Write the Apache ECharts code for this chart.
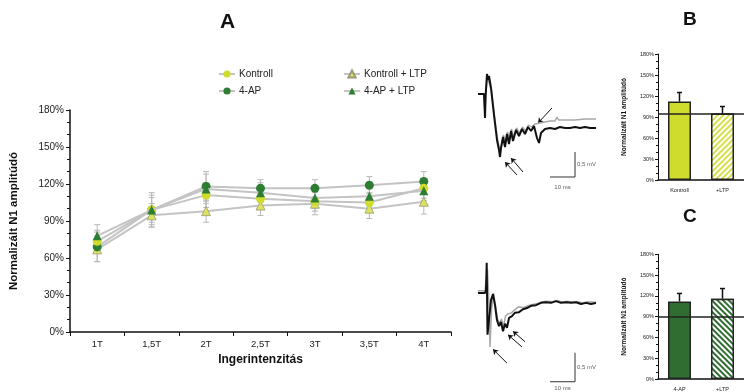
<!DOCTYPE html>
<html><head><meta charset="utf-8">
<script src="https://cdn.jsdelivr.net/npm/echarts@6/dist/echarts.min.js"></script>
<style>html,body{margin:0;padding:0;background:#fff}#c{width:744px;height:392px}</style>
</head><body><div id="c"></div>
<script>
// ---- Panel A data ----
const categories = ['1T','1,5T','2T','2,5T','3T','3,5T','4T'];
const kontroll    = [73.5, 99, 111, 108, 106, 105, 116.5];
const kontrollErr = [9, 10, 10, 8, 8, 8, 8];
const ap4         = [69, 99, 118, 116.5, 116.5, 119, 122];
const ap4Err      = [12, 12, 12, 7, 7, 7, 8];
const kontrollLtp = [67, 94.6, 98, 102.5, 104, 100, 105.6];
const kontrollLtpErr = [10, 9.5, 9, 8, 9, 8, 10];
const ap4Ltp      = [78, 99, 116, 113, 108.6, 110, 114.5];
const ap4LtpErr   = [9, 14, 12, 8, 8, 8, 8];
const yTicksA = [0, 30, 60, 90, 120, 150, 180];

// ---- Traces (ms, mV) ----
const trace1Black = [[3.2,0],[5.6,0],[6.0,-0.48],[6.24,-0.04],[6.8,0.40],[7.2,0.28],[7.6,0.36],[8.4,0.12],[9.6,-0.42],[10.8,-0.92],[11.6,-1.12],[12.0,-1.26],[12.4,-1.08],[13.2,-0.86],[14.0,-1.06],[14.8,-0.80],[15.6,-1.00],[16.4,-0.74],[17.2,-0.94],[18.4,-0.72],[19.6,-0.84],[20.8,-0.70],[22.0,-0.80],[23.2,-0.66],[24.4,-0.74],[25.6,-0.64],[26.8,-0.88],[27.6,-0.98],[28.4,-0.78],[30.0,-0.70],[32.0,-0.68],[34.0,-0.70],[36.0,-0.66],[38.0,-0.68],[40.0,-0.68],[42.0,-0.66],[44.0,-0.68],[46.0,-0.66],[48.0,-0.68],[50.4,-0.68]];
const trace1Gray = [[3.2,0],[5.6,0],[6.0,-0.44],[6.3,-0.02],[6.9,0.36],[7.4,0.26],[7.8,0.30],[8.6,0.08],[9.8,-0.44],[11.0,-0.90],[12.0,-1.16],[12.6,-1.02],[13.4,-0.82],[14.2,-0.98],[15.0,-0.76],[15.8,-0.92],[16.6,-0.70],[17.4,-0.86],[18.6,-0.68],[19.8,-0.78],[21.0,-0.66],[22.2,-0.74],[23.4,-0.62],[24.6,-0.66],[26.0,-0.60],[28.0,-0.58],[30.0,-0.56],[32.0,-0.54],[34.0,-0.54],[34.8,-0.46],[35.4,-0.52],[38.0,-0.52],[42.0,-0.52],[46.0,-0.50],[50.4,-0.50]];
const trace1Arrows = [[[32.8,-0.28],[27.2,-0.58]],[[18.8,-1.62],[14.0,-1.36]],[[21.2,-1.56],[16.4,-1.28]]];
const trace2Black = [[3.2,0],[6.0,0],[6.4,0.05],[6.68,0.52],[7.0,-0.72],[7.6,-0.47],[8.4,-0.12],[9.2,-0.02],[10.0,-0.21],[10.8,-0.47],[11.6,-0.57],[12.4,-0.50],[13.2,-0.66],[14.0,-0.53],[14.8,-0.60],[15.6,-0.43],[16.8,-0.40],[18.0,-0.34],[19.6,-0.33],[21.2,-0.28],[22.8,-0.26],[24.4,-0.22],[26.4,-0.21],[28.4,-0.17],[30.4,-0.16],[32.4,-0.17],[34.4,-0.14],[36.4,-0.17],[38.4,-0.16],[40.4,-0.17],[42.4,-0.16],[44.4,-0.19],[46.4,-0.17],[48.4,-0.19],[50.4,-0.17]];
const trace2Gray = [[3.2,0.04],[6.0,0.04],[6.5,0.03],[7.0,0.40],[7.6,-0.20],[8.0,-0.93],[8.6,-0.30],[9.4,0.0],[10.2,-0.22],[11.0,-0.45],[11.8,-0.52],[12.6,-0.45],[13.4,-0.58],[14.2,-0.40],[15.2,-0.36],[15.6,-0.34],[16.4,-0.35],[17.6,-0.30],[18.4,-0.30],[19.4,-0.24],[20.0,-0.26],[21.6,-0.25],[23.2,-0.22],[25.0,-0.20],[27.0,-0.18],[29.0,-0.15],[31.0,-0.14],[33.0,-0.15],[35.0,-0.13],[37.0,-0.16],[39.0,-0.14],[41.0,-0.16],[43.0,-0.15],[45.0,-0.17],[47.0,-0.15],[50.4,-0.16]];
const trace2Arrows = [[[14.8,-1.21],[9.2,-0.97]],[[20.8,-0.93],[15.2,-0.72]],[[22.0,-0.84],[17.2,-0.66]]];
const scaleMs = 10, scaleMv = 0.5;
const scale1Corner = [42, -1.66];
const scale2Corner = [42, -1.53];

// ---- Panels B and C ----
const barBCats = ['Kontroll', '+LTP'];
const barBVals = [112, 95];
const barBErr  = [13, 10];
const barBRef  = 95;
const barCCats = ['4-AP', '+LTP'];
const barCVals = [112, 116];
const barCErr  = [11.5, 14.6];
const barCRef  = 90;

const FONT = 'Liberation Sans, Arial, sans-serif';
const C_YEL = '#cfdc2e', C_GRN = '#2d7d32', C_YTRI = '#dbe35c', C_DGRN = '#2f6e30';

function errData(vals, errs){ return vals.map((v,i)=>[i, v-errs[i], v+errs[i]]); }
function errRender(color, cap, width){
  return function(params, api){
    const lo = api.coord([api.value(0), api.value(1)]);
    const hi = api.coord([api.value(0), api.value(2)]);
    const st = {stroke: color, lineWidth: width};
    return {type:'group', children:[
      {type:'line', shape:{x1:lo[0],y1:lo[1],x2:hi[0],y2:hi[1]}, style:st},
      {type:'line', shape:{x1:hi[0]-cap,y1:hi[1],x2:hi[0]+cap,y2:hi[1]}, style:st},
      {type:'line', shape:{x1:lo[0]-cap,y1:lo[1],x2:lo[0]+cap,y2:lo[1]}, style:st}
    ]};
  };
}
function barErrRender(params, api){
  const lo = api.coord([api.value(0), api.value(1)]);
  const hi = api.coord([api.value(0), api.value(2)]);
  const st = {stroke:'#111', lineWidth:1.5};
  return {type:'group', children:[
    {type:'line', shape:{x1:lo[0],y1:lo[1],x2:hi[0],y2:hi[1]}, style:st},
    {type:'line', shape:{x1:hi[0]-2.5,y1:hi[1],x2:hi[0]+2.5,y2:hi[1]}, style:st}
  ]};
}

const smallAxisY = (gi, name) => ({
  gridIndex: gi, type:'value', min:0, max:180, interval:30,
  name: name, nameLocation:'middle', nameGap:30,
  nameTextStyle:{fontSize:6.5, fontWeight:'bold', color:'#111', fontFamily:FONT},
  axisLine:{show:true, lineStyle:{color:'#111', width:1}},
  axisTick:{show:true, length:3, lineStyle:{color:'#111'}},
  minorTick:{show:true, splitNumber:3, length:2, lineStyle:{color:'#111'}},
  splitLine:{show:false},
  axisLabel:{fontSize:5.5, color:'#222', margin:4, formatter:'{value}%', fontFamily:FONT}
});
const smallAxisX = (gi, cats) => ({
  gridIndex: gi, type:'category', data: cats,
  axisLine:{show:true, lineStyle:{color:'#111', width:1.5}},
  axisTick:{show:false},
  axisLabel:{fontSize:5.5, color:'#222', margin:7, fontFamily:FONT}
});
const hiddenAxis = (gi, min, max) => ({gridIndex:gi, type:'value', min:min, max:max, show:false, splitLine:{show:false}});

const chart = echarts.init(document.getElementById('c'), null, {renderer:'canvas'});
const option = {
  animation:false,
  backgroundColor:'#fff',
  textStyle:{fontFamily:FONT},
  title:[
    {text:'A', left:215, top:7, textStyle:{fontSize:21, fontWeight:'bold', color:'#111', fontFamily:FONT}},
    {text:'B', left:678, top:5, textStyle:{fontSize:19, fontWeight:'bold', color:'#111', fontFamily:FONT}},
    {text:'C', left:678, top:202, textStyle:{fontSize:19, fontWeight:'bold', color:'#111', fontFamily:FONT}}
  ],
  legend:[
    {data:['Kontroll','4-AP'], orient:'vertical', left:213, top:64, itemWidth:16, itemHeight:9, itemGap:7,
     itemStyle:{}, textStyle:{fontSize:10, color:'#222', fontFamily:FONT, padding:[0,0,0,-1]}},
    {data:['Kontroll + LTP','4-AP + LTP'], orient:'vertical', left:338, top:64, itemWidth:16, itemHeight:9, itemGap:7,
     textStyle:{fontSize:10, color:'#222', fontFamily:FONT, padding:[0,0,0,-1]}}
  ],
  grid:[
    {left:69, top:110, width:382, height:222},
    {left:470, top:69, width:125, height:125},
    {left:470, top:258.2, width:125, height:133.4},
    {left:658, top:54, width:94, height:126},
    {left:658, top:254.3, width:94, height:126.4}
  ],
  xAxis:[
    {gridIndex:0, type:'category', data:categories, boundaryGap:true,
     name:'Ingerintenzitás', nameLocation:'middle', nameGap:20,
     nameTextStyle:{fontSize:12, fontWeight:'bold', color:'#111', fontFamily:FONT},
     axisLine:{lineStyle:{color:'#111', width:1.5}},
     axisTick:{show:true, alignWithLabel:false, interval:0, length:4, lineStyle:{color:'#111'}},
     axisLabel:{fontSize:9.5, color:'#222', margin:7, interval:0, fontFamily:FONT}},
    hiddenAxis(1, 0, 50),
    hiddenAxis(2, 0, 50),
    smallAxisX(3, barBCats),
    smallAxisX(4, barCCats)
  ],
  yAxis:[
    {gridIndex:0, type:'value', min:yTicksA[0], max:yTicksA[yTicksA.length-1], interval:30,
     name:'Normalizált N1 amplitúdó', nameLocation:'middle', nameGap:50,
     nameTextStyle:{fontSize:11.5, fontWeight:'bold', color:'#111', fontFamily:FONT},
     axisLine:{show:true, lineStyle:{color:'#111', width:1.5}},
     axisTick:{show:true, length:4, lineStyle:{color:'#111'}},
     minorTick:{show:true, splitNumber:3, length:3, lineStyle:{color:'#111'}},
     splitLine:{show:false},
     axisLabel:{fontSize:10, color:'#222', margin:6, formatter:'{value}%', fontFamily:FONT}},
    hiddenAxis(1, -2, 0.5),
    hiddenAxis(2, -1.7, 0.6),
    smallAxisY(3, 'Normalizált N1 amplitúdó'),
    smallAxisY(4, 'Normalizált N1 amplitúdó')
  ],
  series:[
    // error bars A
    {type:'custom', xAxisIndex:0, yAxisIndex:0, renderItem:errRender('#b8b8b8',3,1), data:errData(kontroll, kontrollErr), z:1, silent:true},
    {type:'custom', xAxisIndex:0, yAxisIndex:0, renderItem:errRender('#b8b8b8',3,1), data:errData(ap4, ap4Err), z:1, silent:true},
    {type:'custom', xAxisIndex:0, yAxisIndex:0, renderItem:errRender('#b8b8b8',3,1), data:errData(kontrollLtp, kontrollLtpErr), z:1, silent:true},
    {type:'custom', xAxisIndex:0, yAxisIndex:0, renderItem:errRender('#b8b8b8',3,1), data:errData(ap4Ltp, ap4LtpErr), z:1, silent:true},
    // lines A
    {name:'Kontroll + LTP', type:'line', xAxisIndex:0, yAxisIndex:0, data:kontrollLtp, symbol:'triangle', symbolSize:9,
     lineStyle:{color:'#c4c4c4', width:2}, itemStyle:{color:C_YTRI, borderColor:'#9a9a7a', borderWidth:0.8}, z:3},
    {name:'4-AP', type:'line', xAxisIndex:0, yAxisIndex:0, data:ap4, symbol:'circle', symbolSize:9,
     lineStyle:{color:'#c4c4c4', width:2}, itemStyle:{color:C_GRN}, z:3},
    {name:'Kontroll', type:'line', xAxisIndex:0, yAxisIndex:0, data:kontroll, symbol:'circle', symbolSize:9,
     lineStyle:{color:'#c4c4c4', width:2}, itemStyle:{color:C_YEL}, z:3},
    {name:'4-AP + LTP', type:'line', xAxisIndex:0, yAxisIndex:0, data:ap4Ltp, symbol:'triangle', symbolSize:9,
     lineStyle:{color:'#c4c4c4', width:2}, itemStyle:{color:C_GRN}, z:4},
    // traces 1
    {type:'line', xAxisIndex:1, yAxisIndex:1, data:trace1Gray, symbol:'none', lineStyle:{color:'#a8a8a8', width:1.5}, z:2, silent:true},
    {type:'line', xAxisIndex:1, yAxisIndex:1, data:trace1Black, symbol:'none', lineStyle:{color:'#111', width:2}, z:3, silent:true},
    {type:'lines', coordinateSystem:'cartesian2d', xAxisIndex:1, yAxisIndex:1, symbol:['none','arrow'], symbolSize:5,
     lineStyle:{color:'#111', width:1, opacity:1}, data:trace1Arrows.map(c=>({coords:c})), silent:true},
    {type:'lines', coordinateSystem:'cartesian2d', xAxisIndex:1, yAxisIndex:1, polyline:true, symbol:'none',
     lineStyle:{color:'#333', width:1, opacity:1},
     data:[{coords:[[scale1Corner[0]-scaleMs, scale1Corner[1]], scale1Corner, [scale1Corner[0], scale1Corner[1]+scaleMv]]}], silent:true},
    {type:'scatter', xAxisIndex:1, yAxisIndex:1, symbolSize:0, silent:true,
     data:[{name:'0,5 mV', value:[scale1Corner[0]+0.4, scale1Corner[1]+scaleMv/2], label:{position:'right', distance:1}},
           {name:'10 ms', value:[scale1Corner[0]-scaleMs/2, scale1Corner[1]-0.2], label:{position:'inside'}}],
     label:{show:true, formatter:'{b}', fontSize:6, color:'#333', fontFamily:FONT}},
    // traces 2
    {type:'line', xAxisIndex:2, yAxisIndex:2, data:trace2Gray, symbol:'none', lineStyle:{color:'#a8a8a8', width:1.5}, z:2, silent:true},
    {type:'line', xAxisIndex:2, yAxisIndex:2, data:trace2Black, symbol:'none', lineStyle:{color:'#111', width:2}, z:3, silent:true},
    {type:'lines', coordinateSystem:'cartesian2d', xAxisIndex:2, yAxisIndex:2, symbol:['none','arrow'], symbolSize:5,
     lineStyle:{color:'#111', width:1, opacity:1}, data:trace2Arrows.map(c=>({coords:c})), silent:true},
    {type:'lines', coordinateSystem:'cartesian2d', xAxisIndex:2, yAxisIndex:2, polyline:true, symbol:'none',
     lineStyle:{color:'#333', width:1, opacity:1},
     data:[{coords:[[scale2Corner[0]-scaleMs, scale2Corner[1]], scale2Corner, [scale2Corner[0], scale2Corner[1]+scaleMv]]}], silent:true},
    {type:'scatter', xAxisIndex:2, yAxisIndex:2, symbolSize:0, silent:true,
     data:[{name:'0,5 mV', value:[scale2Corner[0]+0.4, scale2Corner[1]+scaleMv/2], label:{position:'right', distance:1}},
           {name:'10 ms', value:[scale2Corner[0]-scaleMs/2, scale2Corner[1]-0.12], label:{position:'inside'}}],
     label:{show:true, formatter:'{b}', fontSize:6, color:'#333', fontFamily:FONT}},
    // bars B
    {type:'bar', xAxisIndex:3, yAxisIndex:3, barWidth:23,
     data:[
       {value:barBVals[0], itemStyle:{color:C_YEL, borderColor:'#222', borderWidth:1.5}},
       {value:barBVals[1], itemStyle:{color:'#fff', borderColor:'#222', borderWidth:1.5,
         decal:{symbol:'rect', symbolSize:1, dashArrayX:[1,0], dashArrayY:[1.5,2], rotation:-Math.PI/4, color:'#d6e04a', backgroundColor:'#fff'}}}
     ],
     markLine:{symbol:'none', silent:true, label:{show:false}, lineStyle:{color:'#222', width:1.5, type:'solid'}, data:[{yAxis:barBRef}]}, z:2},
    {type:'custom', xAxisIndex:3, yAxisIndex:3, renderItem:barErrRender, data:barBVals.map((v,i)=>[i, v, v+barBErr[i]]), z:3, silent:true},
    // bars C
    {type:'bar', xAxisIndex:4, yAxisIndex:4, barWidth:23,
     data:[
       {value:barCVals[0], itemStyle:{color:C_DGRN, borderColor:'#222', borderWidth:1.5}},
       {value:barCVals[1], itemStyle:{color:'#fff', borderColor:'#222', borderWidth:1.5,
         decal:{symbol:'rect', symbolSize:1, dashArrayX:[1,0], dashArrayY:[1.5,2], rotation:Math.PI/4, color:C_DGRN, backgroundColor:'#fff'}}}
     ],
     markLine:{symbol:'none', silent:true, label:{show:false}, lineStyle:{color:'#222', width:1.5, type:'solid'}, data:[{yAxis:barCRef}]}, z:2},
    {type:'custom', xAxisIndex:4, yAxisIndex:4, renderItem:barErrRender, data:barCVals.map((v,i)=>[i, v, v+barCErr[i]]), z:3, silent:true}
  ]
};
chart.setOption(option);
</script></body></html>
